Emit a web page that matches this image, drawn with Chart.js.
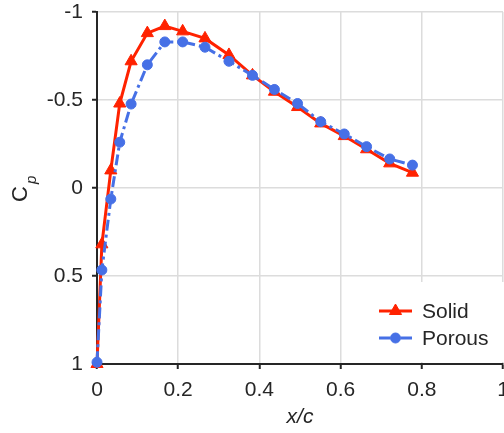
<!DOCTYPE html>
<html>
<head>
<meta charset="utf-8">
<script src="https://cdn.jsdelivr.net/npm/chart.js@4.4.1/dist/chart.umd.min.js"></script>
<style>
  html, body { margin: 0; padding: 0; background: #fff; overflow: hidden; }
</style>
</head>
<body>
<canvas id="chartCp" width="511" height="433"></canvas>
<script>
// chordwise stations (x/c)
const xStations = [0, 0.012, 0.034, 0.056, 0.084, 0.124, 0.167, 0.211, 0.266, 0.325,
  0.383, 0.437, 0.494, 0.551, 0.609, 0.664, 0.721, 0.777];
const solidCp = [1, 0.32, -0.1, -0.48, -0.72, -0.88, -0.92, -0.89, -0.85, -0.756,
  -0.64, -0.547, -0.46, -0.367, -0.295, -0.22, -0.14, -0.087];
const porousCp = [0.99, 0.466, 0.0625, -0.26, -0.477, -0.7, -0.83, -0.83, -0.8, -0.72,
  -0.64, -0.56, -0.48, -0.377, -0.307, -0.235, -0.165, -0.13];
const seriesNames = ["Solid", "Porous"];

const RED = "#ff2200";
const BLUE = "#4670e6";
const INK = "#262626";
const FONT = "'Liberation Sans', Arial, sans-serif";

function toPoints(ys) {
  return xStations.map((x, i) => ({ x: x, y: ys[i] }));
}

const cpTitle = {
  id: "cpTitle",
  afterDraw(chart) {
    const ctx = chart.ctx;
    const cy = (chart.chartArea.top + chart.chartArea.bottom) / 2;
    ctx.save();
    ctx.translate(27, cy + 2);
    ctx.rotate(-Math.PI / 2);
    ctx.fillStyle = INK;
    ctx.textBaseline = "alphabetic";
    ctx.font = "22px " + FONT;
    ctx.fillText("C", -12, 0);
    ctx.font = "italic 15px " + FONT;
    ctx.fillText("p", 6, 9);
    ctx.restore();
  },
};

const boxLegend = {
  id: "boxLegend",
  afterDraw(chart) {
    const ctx = chart.ctx;
    const area = chart.chartArea;
    const x0 = area.right - 130;
    const y0 = area.bottom - 82;
    ctx.save();
    ctx.fillStyle = "#fff";
    ctx.fillRect(x0, y0, 138, 80);
    chart.data.datasets.forEach((ds, i) => {
      const y = y0 + 29 + i * 27;
      ctx.strokeStyle = ds.borderColor;
      ctx.lineWidth = ds.borderWidth;
      ctx.setLineDash(ds.borderDash || []);
      ctx.beginPath();
      ctx.moveTo(x0 + 6, y);
      ctx.lineTo(x0 + 39, y);
      ctx.stroke();
      ctx.setLineDash([]);
      ctx.fillStyle = ds.backgroundColor;
      ctx.strokeStyle = ds.borderColor;
      ctx.lineWidth = 1;
      Chart.helpers.drawPoint(ctx, {
        pointStyle: ds.pointStyle,
        radius: ds.pointRadius,
        borderWidth: 1,
      }, x0 + 22.5, y);
      ctx.fillStyle = INK;
      ctx.font = "21px " + FONT;
      ctx.textBaseline = "middle";
      ctx.fillText(ds.label, x0 + 49, y + 1);
    });
    ctx.restore();
  },
};

new Chart(document.getElementById("chartCp"), {
  type: "scatter",
  data: {
    datasets: [
      {
        label: seriesNames[0],
        data: toPoints(solidCp),
        showLine: true,
        borderColor: RED,
        backgroundColor: RED,
        borderWidth: 3,
        pointStyle: "triangle",
        pointRadius: 7,
        pointBorderWidth: 1,
        order: 1,
        clip: false,
      },
      {
        label: seriesNames[1],
        data: toPoints(porousCp),
        showLine: true,
        borderColor: BLUE,
        backgroundColor: BLUE,
        borderWidth: 3,
        borderDash: [11, 4, 3, 4],
        pointStyle: "circle",
        pointRadius: 5,
        pointBorderWidth: 1,
        order: 0,
        clip: false,
      },
    ],
  },
  options: {
    responsive: false,
    animation: false,
    layout: { padding: { left: 0, right: 1, top: 12, bottom: 0 } },
    plugins: {
      legend: { display: false },
      tooltip: { enabled: false },
    },
    scales: {
      x: {
        type: "linear",
        min: 0,
        max: 1,
        afterFit(scale) {
          scale.height = 69;
          scale.paddingLeft = 0;
          scale.paddingRight = 0;
        },
        ticks: {
          stepSize: 0.2,
          padding: 9,
          color: INK,
          font: { family: FONT, size: 21 },
          callback: (v) => String(Number(v.toFixed(2))),
        },
        grid: {
          color: "#dcdcdc",
          lineWidth: 1.5,
          tickColor: INK,
          tickLength: 5,
          tickWidth: 2,
        },
        border: { color: INK, width: 2 },
        title: {
          display: true,
          text: "x/c",
          color: INK,
          font: { family: FONT, size: 21, style: "italic" },
          padding: { top: 0, bottom: 3 },
        },
      },
      y: {
        type: "linear",
        min: -1,
        max: 1,
        reverse: true,
        afterFit(scale) {
          scale.width = 97;
          scale.paddingTop = 0;
          scale.paddingBottom = 0;
        },
        ticks: {
          stepSize: 0.5,
          padding: 9,
          color: INK,
          font: { family: FONT, size: 21 },
          callback: (v) => String(Number(v.toFixed(2))),
        },
        grid: {
          color: "#dcdcdc",
          lineWidth: 1.5,
          tickColor: INK,
          tickLength: 5,
          tickWidth: 2,
        },
        border: { color: INK, width: 2 },
      },
    },
  },
  plugins: [cpTitle, boxLegend],
});
</script>
</body>
</html>
